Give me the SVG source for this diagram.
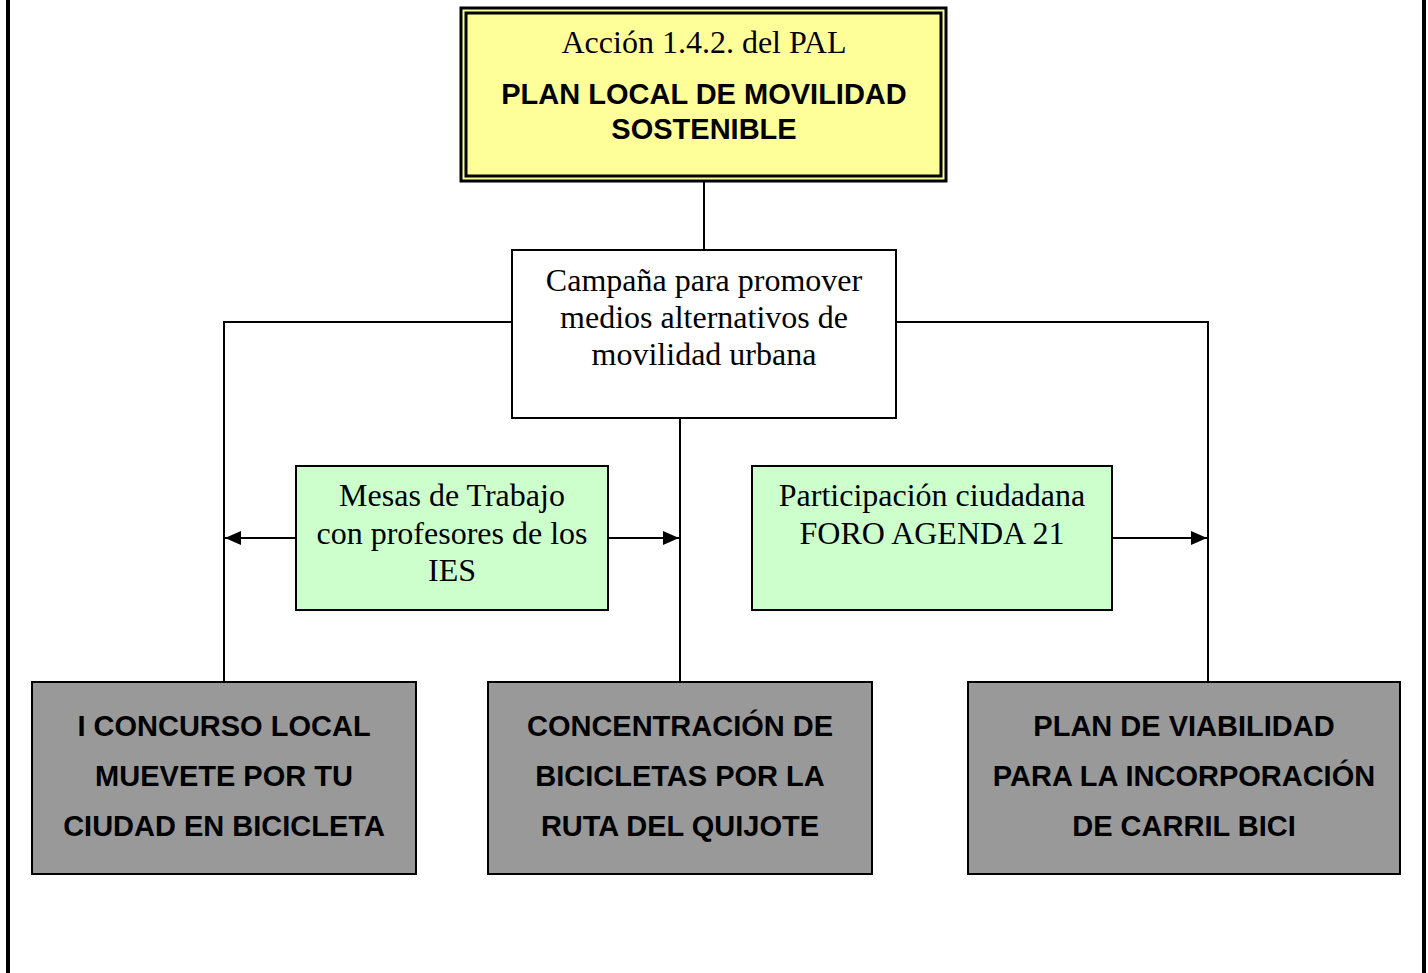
<svg xmlns="http://www.w3.org/2000/svg" width="1428" height="973" viewBox="0 0 1428 973">
<style>
.serif{font-family:"Liberation Serif","Times New Roman",serif;font-size:32px;fill:#000;text-anchor:middle}
.bold{font-family:"Liberation Sans",Arial,sans-serif;font-size:29px;font-weight:bold;fill:#000;text-anchor:middle}
.ln{stroke:#000;stroke-width:2;fill:none}
.box{stroke:#000;stroke-width:2}
</style>
<defs>
<marker id="ah2" viewBox="0 0 16 14" refX="16" refY="7" markerWidth="16" markerHeight="14" orient="auto" markerUnits="userSpaceOnUse">
<path d="M0,0 L16,7 L0,14 z" fill="#000"/>
</marker>
</defs>
<rect width="1428" height="973" fill="#fff"/>
<line x1="8" y1="0" x2="8" y2="973" stroke="#000" stroke-width="4"/>
<line x1="1424" y1="0" x2="1424" y2="973" stroke="#000" stroke-width="4"/>
<g id="connectors">
<line class="ln" x1="704" y1="181" x2="704" y2="250"/>
<polyline class="ln" points="512,322 224,322 224,682"/>
<polyline class="ln" points="896,322 1208,322 1208,682"/>
<line class="ln" x1="680" y1="418" x2="680" y2="682"/>
<line class="ln" x1="296" y1="538" x2="225" y2="538" marker-end="url(#ah2)"/>
<line class="ln" x1="608" y1="538" x2="679" y2="538" marker-end="url(#ah2)"/>
<line class="ln" x1="1112" y1="538" x2="1207" y2="538" marker-end="url(#ah2)"/>
</g>
<g id="top">
<rect x="461" y="8" width="485" height="173" fill="#ffff99" stroke="#000" stroke-width="3"/>
<rect x="466" y="13" width="475" height="163" fill="none" stroke="#000" stroke-width="3"/>
<text class="serif" x="704" y="53">Acción 1.4.2. del PAL</text>
<text class="bold" x="704" y="104">PLAN LOCAL DE MOVILIDAD</text>
<text class="bold" x="704" y="139">SOSTENIBLE</text>
</g>
<g id="campana">
<rect class="box" x="512" y="250" width="384" height="168" fill="#fff"/>
<text class="serif" x="704" y="291">Campaña para promover</text>
<text class="serif" x="704" y="328">medios alternativos de</text>
<text class="serif" x="704" y="365">movilidad urbana</text>
</g>
<g id="mesas">
<rect class="box" x="296" y="466" width="312" height="144" fill="#ccffcc"/>
<text class="serif" x="452" y="506">Mesas de Trabajo</text>
<text class="serif" x="452" y="544">con profesores de los</text>
<text class="serif" x="452" y="581">IES</text>
</g>
<g id="foro">
<rect class="box" x="752" y="466" width="360" height="144" fill="#ccffcc"/>
<text class="serif" x="932" y="506">Participación ciudadana</text>
<text class="serif" x="932" y="544">FORO AGENDA 21</text>
</g>
<g id="concurso">
<rect class="box" x="32" y="682" width="384" height="192" fill="#999999"/>
<text class="bold" x="224" y="736">I CONCURSO LOCAL</text>
<text class="bold" x="224" y="786">MUEVETE POR TU</text>
<text class="bold" x="224" y="836">CIUDAD EN BICICLETA</text>
</g>
<g id="concentracion">
<rect class="box" x="488" y="682" width="384" height="192" fill="#999999"/>
<text class="bold" x="680" y="736">CONCENTRACIÓN DE</text>
<text class="bold" x="680" y="786">BICICLETAS POR LA</text>
<text class="bold" x="680" y="836">RUTA DEL QUIJOTE</text>
</g>
<g id="viabilidad">
<rect class="box" x="968" y="682" width="432" height="192" fill="#999999"/>
<text class="bold" x="1184" y="736">PLAN DE VIABILIDAD</text>
<text class="bold" x="1184" y="786">PARA LA INCORPORACIÓN</text>
<text class="bold" x="1184" y="836">DE CARRIL BICI</text>
</g>
</svg>
